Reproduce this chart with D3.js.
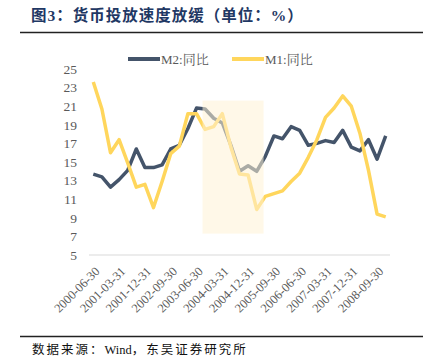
<!DOCTYPE html>
<html>
<head>
<meta charset="utf-8">
<script src="https://cdn.jsdelivr.net/npm/d3@7"></script>
<style>
  body { margin: 0; background: #fff; }
  svg { display: block; }
</style>
</head>
<body>
<svg id="chart"></svg>
<script>
// quarterly data, 2000Q2 .. 2008Q4

var quarters = [
  "2000-06-30","2000-09-30","2000-12-31",
  "2001-03-31","2001-06-30","2001-09-30","2001-12-31",
  "2002-03-31","2002-06-30","2002-09-30","2002-12-31",
  "2003-03-31","2003-06-30","2003-09-30","2003-12-31",
  "2004-03-31","2004-06-30","2004-09-30","2004-12-31",
  "2005-03-31","2005-06-30","2005-09-30","2005-12-31",
  "2006-03-31","2006-06-30","2006-09-30","2006-12-31",
  "2007-03-31","2007-06-30","2007-09-30","2007-12-31",
  "2008-03-31","2008-06-30","2008-09-30","2008-12-31"
];

var m2 = [13.7, 13.4, 12.3, 13.1, 14.1, 16.4, 14.4, 14.4, 14.7, 16.4, 16.8,
          18.6, 20.8, 20.7, 19.7, 19.2, 16.8, 14.0, 14.6, 14.0, 15.6, 17.8,
          17.5, 18.8, 18.4, 16.8, 17.0, 17.3, 17.1, 18.4, 16.6, 16.2, 17.4,
          15.3, 17.8];

var m1 = [23.6, 20.7, 16.0, 17.4, 14.9, 12.3, 12.6, 10.1, 12.9, 15.9, 16.7,
          20.2, 20.2, 18.5, 18.8, 20.2, 16.6, 13.7, 13.6, 9.9, 11.3, 11.6,
          11.9, 12.9, 13.8, 15.5, 17.4, 19.8, 20.8, 22.1, 21.0, 18.1, 14.1,
          9.4, 9.1];

var seriesNames = ["M2:同比", "M1:同比"];
var seriesColors = ["#44546A", "#FFD65C"];

var yTicks = [5, 7, 9, 11, 13, 15, 17, 19, 21, 23, 25];

// highlighted period (category index range, value range)
var shadeX = [13.2, 20.3];
var shadeY = [7.3, 21.6];

// layout

var width = 430, height = 364;
var plotLeft = 89, plotRight = 390, plotTop = 69, plotBottom = 255;

var svg = d3.select("#chart")
    .attr("width", width)
    .attr("height", height);

var serif = "'Liberation Serif', 'Times New Roman', 'Noto Serif CJK SC', 'Noto Sans CJK SC', serif";

// title + rules

svg.append("text")
    .attr("x", 31)
    .attr("y", 21)
    .attr("font-family", "'Liberation Serif', 'Noto Sans CJK SC', sans-serif")
    .attr("font-weight", "bold")
    .attr("font-size", 15.5)
    .attr("letter-spacing", 1)
    .attr("fill", "#1F3864")
    .text("图3：货币投放速度放缓（单位：%）");

svg.append("line")
    .attr("x1", 20).attr("x2", 423)
    .attr("y1", 32.5).attr("y2", 32.5)
    .attr("stroke", "#222").attr("stroke-width", 1.5);

svg.append("line")
    .attr("x1", 20).attr("x2", 423)
    .attr("y1", 336.5).attr("y2", 336.5)
    .attr("stroke", "#222").attr("stroke-width", 1.5);

var src = svg.append("text")
    .attr("x", 32)
    .attr("y", 354)
    .attr("font-family", "'Liberation Serif', 'Noto Sans CJK SC', sans-serif")
    .attr("font-size", 12.5)
    .attr("fill", "#111");
src.append("tspan").attr("letter-spacing", 2).text("数据来源：");
src.append("tspan").text("Wind");
src.append("tspan").attr("letter-spacing", 2).text("，东吴证券研究所");

// scales

var x = d3.scaleBand()
    .domain(quarters)
    .range([plotLeft, plotRight]);

var xi = d3.scaleLinear()
    .domain([0, quarters.length])
    .range([plotLeft, plotRight]);

var y = d3.scaleLinear()
    .domain([5, 25])
    .range([plotBottom, plotTop]);

function cx(d) { return x(d) + x.bandwidth() / 2; }

// y axis labels only

var yAxis = svg.append("g")
    .attr("transform", "translate(" + (plotLeft - 12) + ",0)")
    .call(d3.axisLeft(y).tickValues(yTicks).tickSize(0).tickPadding(0));
yAxis.select(".domain").remove();
yAxis.selectAll("text")
    .attr("font-family", serif)
    .attr("font-size", 13.5)
    .attr("fill", "#595959");

// baseline

svg.append("line")
    .attr("x1", plotLeft).attr("x2", plotRight)
    .attr("y1", y(5)).attr("y2", y(5))
    .attr("stroke", "#D9D9D9").attr("stroke-width", 1);

// x labels every 3 quarters

var xAxis = svg.append("g")
    .attr("transform", "translate(0," + plotBottom + ")")
    .call(d3.axisBottom(x)
        .tickValues(quarters.filter(function(d, i) { return i % 3 === 0; }))
        .tickSize(0));
xAxis.select(".domain").remove();
xAxis.selectAll("text")
    .attr("font-family", serif)
    .attr("font-size", 12.5)
    .attr("fill", "#595959")
    .attr("text-anchor", "end")
    .attr("dy", 0)
    .attr("transform", "translate(5,15) rotate(-45)");

// lines

var line = d3.line()
    .x(function(d, i) { return cx(quarters[i]); })
    .y(function(d) { return y(d); });

[m2, m1].forEach(function(s, k) {
    svg.append("path")
        .datum(s)
        .attr("d", line)
        .attr("fill", "none")
        .attr("stroke", seriesColors[k])
        .attr("stroke-width", 3.5)
        .attr("stroke-linejoin", "round");
});

// shaded period, drawn over the lines

svg.append("rect")
    .attr("x", xi(shadeX[0]))
    .attr("width", xi(shadeX[1]) - xi(shadeX[0]))
    .attr("y", y(shadeY[1]))
    .attr("height", y(shadeY[0]) - y(shadeY[1]))
    .attr("fill", "#FFF3D6")
    .attr("opacity", 0.55);

// legend

var legend = svg.append("g");
var legendX = [128, 232];
seriesNames.forEach(function(name, k) {
    legend.append("line")
        .attr("x1", legendX[k]).attr("x2", legendX[k] + 32)
        .attr("y1", 59).attr("y2", 59)
        .attr("stroke", seriesColors[k])
        .attr("stroke-width", 4);
    legend.append("text")
        .attr("x", legendX[k] + 33)
        .attr("y", 63.5)
        .attr("font-family", serif)
        .attr("font-size", 13)
        .attr("fill", "#595959")
        .text(name);
});
</script>
</body>
</html>
